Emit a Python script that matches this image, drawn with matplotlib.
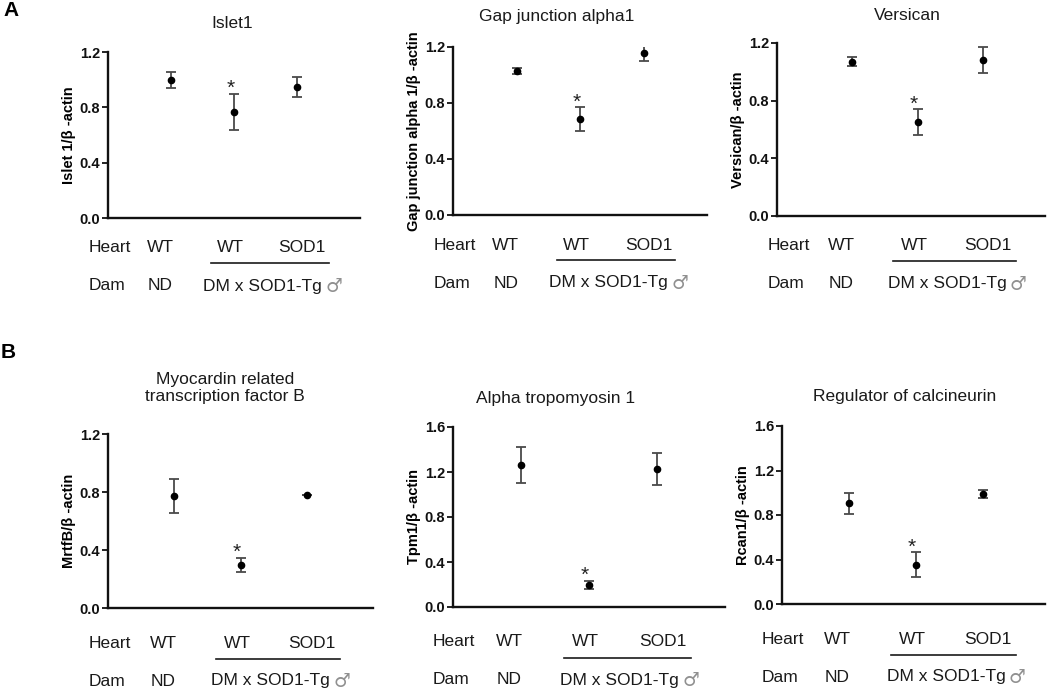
import matplotlib
matplotlib.use('Agg')
import matplotlib.pyplot as plt

# ------------------------- Data -------------------------
titles = ['Islet1', 'Gap junction alpha1', 'Versican',
          'Myocardin related\ntranscription factor B', 'Alpha tropomyosin 1', 'Regulator of calcineurin']
ylabels = ['Islet 1/β -actin', 'Gap junction alpha 1/β -actin', 'Versican/β -actin',
           'MrtfB/β -actin', 'Tpm1/β -actin', 'Rcan1/β -actin']

means = [
    [1.00, 0.766, 0.949],
    [1.031, 0.686, 1.155],
    [1.070, 0.652, 1.082],
    [0.772, 0.297, 0.779],
    [1.262, 0.196, 1.229],
    [0.905, 0.354, 0.989],
]
errors = [
    [0.057, 0.130, 0.072],
    [0.021, 0.083, 0.053],
    [0.032, 0.088, 0.092],
    [0.118, 0.048, 0.0],
    [0.163, 0.034, 0.142],
    [0.093, 0.109, 0.033],
]
ymax = [1.2, 1.2, 1.2, 1.2, 1.6, 1.6]
yticks_a = [0.0, 0.4, 0.8, 1.2]
yticks_b = [0.0, 0.4, 0.8, 1.2, 1.6]
star_group = 1  # DM x SOD1-Tg, WT heart

heart_labels = ['WT', 'WT', 'SOD1']
dam_labels = ['ND', 'DM x SOD1-Tg']
male_sign = '♂'

# ------------------------- Layout (pixels) -------------------------
W, H = 1050, 692
# left, right, top, bottom of each axes
boxes = [
    (108, 360, 52, 218),
    (453, 707, 47, 215),
    (777, 1045, 43, 216),
    (108, 373, 434, 608),
    (453, 725, 427, 607),
    (782, 1045, 426, 604),
]
xlims = [(-1, 3), (-1, 3), (-1.15, 2.95), (-1, 3), (-1, 3), (-1, 2.93)]
title_pos = [(232, 24), (557, 17), (907, 15), (225, 388), (556, 398), (905, 397)]
row_offsets_a = (30, 45, 68)
row_offsets_b = (35, 51, 73)

FONT = ['Liberation Sans', 'DejaVu Sans']
plt.rcParams['font.family'] = FONT

fig = plt.figure(figsize=(W / 100, H / 100), dpi=100)

for i in range(6):
    l, r, t, b = boxes[i]
    ax = fig.add_axes([l / W, 1 - b / H, (r - l) / W, (b - t) / H])
    xs = [0, 1, 2]
    ax.errorbar(xs, means[i], yerr=errors[i], fmt='o', color='black', ms=4.5,
                ecolor='#4a4a4a', elinewidth=1.3, capsize=3.5, capthick=1.3, zorder=3)

    # significance mark
    ax.annotate('*', xy=(star_group - 0.06, means[i][star_group] + errors[i][star_group]),
                xytext=(0, -3), textcoords='offset points', ha='center', va='bottom',
                fontsize=15, color='#222222')

    ax.set_xlim(*xlims[i])
    ax.set_ylim(0, ymax[i])
    ticks = yticks_a if ymax[i] < 1.5 else yticks_b
    ax.set_yticks(ticks)
    ax.set_yticklabels([f'{v:.1f}' for v in ticks], fontweight='bold', fontsize=10.5)
    ax.set_xticks([])
    ax.set_ylabel(ylabels[i], fontweight='bold', fontsize=10.5, labelpad=3)

    for s in ['top', 'right']:
        ax.spines[s].set_visible(False)
    for s in ['left', 'bottom']:
        ax.spines[s].set_linewidth(1.7)
        ax.spines[s].set_color('#111111')
    ax.tick_params(axis='y', direction='out', length=4, width=1.3, pad=1.5, colors='#111111')

    # group table under the axis
    dh, du, dd = row_offsets_a if i < 3 else row_offsets_b
    k = 0.72  # px -> pt
    kw = dict(xycoords=('data', 'axes fraction'), textcoords='offset points',
              va='center', fontsize=12.5, color='#1a1a1a')
    ax.annotate('Heart', xy=(-1.3, 0), xytext=(0, -dh * k), ha='left', **kw)
    ax.annotate('Dam', xy=(-1.3, 0), xytext=(0, -dd * k), ha='left', **kw)
    for x, lab in zip([-0.17, 0.95, 2.08], heart_labels):
        ax.annotate(lab, xy=(x, 0), xytext=(0, -dh * k), ha='center', **kw)
    ax.annotate(dam_labels[0], xy=(-0.17, 0), xytext=(0, -dd * k), ha='center', **kw)
    dm = ax.annotate(dam_labels[1], xy=(1.45, 0), xytext=(0, -dd * k), ha='center', **kw)
    ax.annotate(male_sign, xy=(1, 0.5), xycoords=dm, xytext=(2.5, -0.5), textcoords='offset points',
                ha='left', va='center', fontsize=13.5, color='#909090', family='DejaVu Sans')
    ax.plot([0.63, 2.5], [0, 0], color='#1a1a1a', lw=1.2, clip_on=False,
            transform=ax.get_xaxis_transform() + matplotlib.transforms.ScaledTranslation(0, -du / 100, fig.dpi_scale_trans))

    tx, ty = title_pos[i]
    fig.text(tx / W, 1 - ty / H, titles[i], ha='center', va='center', fontsize=12.5,
             color='#1a1a1a', linespacing=1.15)

fig.text(3 / W, 1 - 10 / H, 'A', fontsize=15, fontweight='bold', va='center', ha='left')
fig.text(1 / W, 1 - 352 / H, 'B', fontsize=15, fontweight='bold', va='center', ha='left')

fig.savefig('out.png', dpi=100)
